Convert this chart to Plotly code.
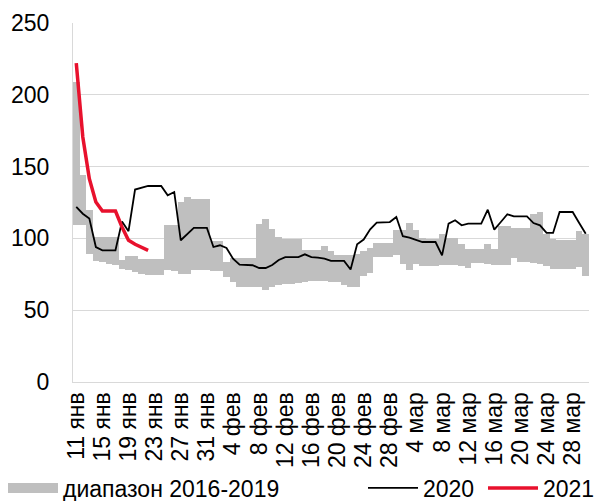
import plotly.graph_objects as go
import pandas as pd

START_DATE = "2021-01-11"

RANGE_LOW = [109, 109, 89, 84.5, 83.6, 82.4, 81.5, 79, 77.8, 76.5,
             75, 74.3, 74.3, 74.3, 77.8, 77.3, 75, 75.5, 77.8, 77.8,
             77.8, 77.3, 77.3, 73.1, 69.6, 66.2, 66.2, 66.2, 66.2, 64.3,
             66.4, 67.3, 68.5, 68.5, 69, 69.6, 70.5, 70.5, 70, 69.6,
             69.6, 67.3, 66.2, 66, 73.6, 76, 87, 87, 87, 88.2,
             82.4, 78.3, 82.4, 80.6, 81, 81, 81.7, 81.3, 81.3, 80.6,
             79.7, 83.1, 83.1, 82.4, 81.7, 81.3, 81.3, 86.4, 83.6, 83.6,
             82.9, 82.4, 80.6, 79, 79, 79, 79, 80, 73.6]

RANGE_HIGH = [209, 144, 119.6, 101, 101, 101, 101, 84.7, 87.5, 87.5,
              85.9, 85.9, 85.9, 85.9, 109, 109, 125.4, 128.8, 127.7, 127.7,
              127.7, 98.2, 98.2, 83.6, 86.4, 86.4, 86.4, 86.4, 110.3, 113.3,
              106.8, 100.8, 99.8, 99.8, 99.8, 91.7, 91.7, 91.7, 94.5, 91.2,
              88.2, 88.2, 88.2, 89, 91, 93, 96.8, 96.8, 96.8, 105.6,
              105.6, 110.7, 106.1, 100.5, 99.5, 99.5, 102.8, 100.5, 100.5, 96.4,
              92.4, 92.4, 92.4, 95.9, 92.4, 108.4, 108.4, 107.5, 107.5, 107.5,
              117.3, 118.2, 103.3, 99.8, 99.2, 99.2, 99.2, 104.9, 103.3]

Y2020 = [121.9, 117.2, 113.8, 94, 91.7, 91.7, 91.7, 111.7, 105, 134,
         135, 136.5, 136.5, 136.5, 130, 132.3, 98.7, 102.8, 107.3, 107.3,
         107.3, 94, 95.2, 93.3, 85.9, 81.7, 81.7, 81.3, 79.4, 79.4,
         81.5, 85, 87, 87, 87, 88.9, 87, 86.6, 85.9, 84.3,
         84.3, 84.3, 78.3, 95.9, 99.2, 106.3, 111, 111.4, 111.4, 114.9,
         101.5, 100.5, 99.2, 97.5, 97.5, 97.5, 88.2, 110.3, 112.6, 109.1,
         110.3, 110.3, 110.3, 120, 106.1, 111.4, 116.8, 115.4, 115.4, 115.4,
         110.7, 109.1, 103.8, 103.8, 118.4, 118.4, 118.4, 110.7, 103.3]

Y2021 = [222, 170.6, 141.6, 125.3, 119.1, 119.1, 119.1, 108, 98.7, 95.9, 93.6, 91.7]

TICK_LABELS = ["11 янв", "15 янв", "19 янв", "23 янв", "27 янв", "31 янв",
               "4 фев", "8 фев", "12 фев", "16 фев", "20 фев", "24 фев", "28 фев",
               "4 мар", "8 мар", "12 мар", "16 мар", "20 мар", "24 мар", "28 мар"]

SERIES_NAMES = ["диапазон 2016-2019", "2020", "2021"]

dates = pd.date_range(START_DATE, periods=len(RANGE_LOW), freq="D")
tickvals = list(dates[::4][:len(TICK_LABELS)])
heights = [h - l for h, l in zip(RANGE_HIGH, RANGE_LOW)]

FONT = "Liberation Sans, Arial, sans-serif"
GRAY = "#bfbfbf"
RED = "#E8112D"

fig = go.Figure()
fig.add_trace(go.Bar(x=dates, y=heights, base=RANGE_LOW, marker=dict(color=GRAY, line=dict(width=0)),
                     showlegend=False, name=SERIES_NAMES[0]))
fig.add_trace(go.Scatter(x=[None], y=[None], mode="lines", line=dict(color=GRAY, width=12),
                         name=SERIES_NAMES[0], legend="legend"))
fig.add_trace(go.Scatter(x=dates, y=Y2020, mode="lines", line=dict(color="black", width=1.8),
                         name=SERIES_NAMES[1], legend="legend2"))
fig.add_trace(go.Scatter(x=dates[:len(Y2021)], y=Y2021, mode="lines", line=dict(color=RED, width=3.5),
                         name=SERIES_NAMES[2], legend="legend2"))

half_day = pd.Timedelta(hours=12)
fig.update_layout(
    width=597, height=501,
    margin=dict(l=73, r=8, t=23, b=119, autoexpand=False),
    plot_bgcolor="white", paper_bgcolor="white",
    bargap=0,
    font=dict(family=FONT, color="black", size=23),
    xaxis=dict(type="date", range=[dates[0] - half_day, dates[-1] + half_day],
               tickvals=tickvals, ticktext=TICK_LABELS, tickangle=-90, automargin=False,
               showgrid=False, showline=True, linecolor="#d9d9d9", linewidth=1,
               ticks="", tickfont=dict(size=23, family=FONT, color="black")),
    yaxis=dict(range=[0, 250], dtick=50, showgrid=True, gridcolor="#d9d9d9", gridwidth=1,
               showline=True, linecolor="#d9d9d9", zeroline=False, ticks="", automargin=False,
               tickfont=dict(size=23, family=FONT, color="black"), ticklabelstandoff=18),
    legend=dict(orientation="h", xref="container", yref="container", x=3/597, y=13/501,
                xanchor="left", yanchor="middle", font=dict(size=23, family=FONT),
                itemwidth=50, bgcolor="rgba(0,0,0,0)"),
    legend2=dict(orientation="h", xref="container", yref="container", x=363/597, y=13/501,
                 xanchor="left", yanchor="middle", font=dict(size=23, family=FONT),
                 itemwidth=50, entrywidth=55, bgcolor="rgba(0,0,0,0)"),
)

fig.write_html("out.html", config={"displayModeBar": False},
               post_script="document.body.style.margin='0';document.body.style.overflow='hidden';")
